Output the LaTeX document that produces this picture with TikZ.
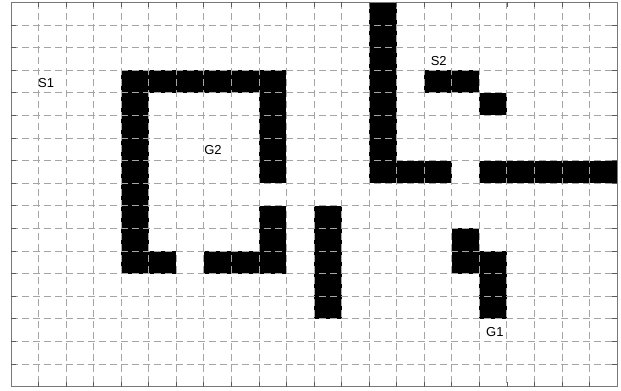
\documentclass[tikz,border=0pt]{standalone}
\usepackage{fontspec}
\setmainfont{Liberation Sans}
\tikzset{
  cell/.style={fill=black, draw=none},
  gridline/.style={draw={rgb,255:red,165;green,165;blue,165}, line width=0.8pt, dash pattern=on 7pt off 4pt},
  frame/.style={draw={rgb,255:red,120;green,120;blue,120}, line width=0.9pt},
  tick/.style={draw={rgb,255:red,90;green,90;blue,90}, line width=0.7pt},
  lbl/.style={anchor=west, inner sep=0pt, font=\fontsize{13}{15}\selectfont}
}
\begin{document}
\begin{tikzpicture}[x=27.55pt, y=-22.6pt]
\useasboundingbox (-0.399,-0.102) rectangle (22.142,17.155);
\fill[white] (-0.399,-0.102) rectangle (22.142,17.155);
% black cells
\foreach \c/\r in {13/0,13/1,13/2,13/3,13/4,13/5,13/6,13/7,
  14/7,15/7,17/7,18/7,19/7,20/7,21/7,
  15/3,16/3,17/4,
  11/9,11/10,11/11,11/12,11/13,
  16/10,16/11,17/11,17/12,17/13,
  4/3,5/3,6/3,7/3,8/3,9/3,
  4/4,4/5,4/6,4/7,4/8,4/9,4/10,4/11,
  9/4,9/5,9/6,9/7,9/9,9/10,9/11,
  5/11,7/11,8/11}
  \path[cell] (\c,\r) rectangle ++(1,1);
% grid
\foreach \i in {1,...,21} \draw[gridline] (\i,0) -- (\i,17);
\foreach \j in {1,...,16} \draw[gridline] (0,\j) -- (22,\j);
% frame
\draw[frame] (0,0) rectangle (22,17);
% ticks
\foreach \i in {1,...,21} {
  \draw[tick] (\i,0) -- ++(0,0.22);
  \draw[tick] (\i,17) -- ++(0,-0.22);
}
\foreach \j in {1,...,16} {
  \draw[tick] (0,\j) -- ++(0.18,0);
  \draw[tick] (22,\j) -- ++(-0.18,0);
}
% labels
\node[lbl] (s1) at (0.98,3.56) {S1};
\node[lbl] (g2) at (7.01,6.52) {G2};
\node[lbl] (s2) at (15.23,2.61) {S2};
\node[lbl] (g1) at (17.24,14.61) {G1};
\end{tikzpicture}
\end{document}
